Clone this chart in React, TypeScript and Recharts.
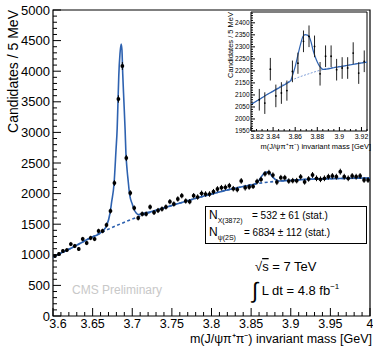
import React from 'react';
import { ComposedChart, Line, Scatter, ErrorBar, XAxis, YAxis, ReferenceArea } from 'recharts';

// histogram: 5 MeV bins starting at 3.600 GeV
const BIN_LO = 3.6;
const BIN_W = 0.005;

const counts = [
  980, 1013, 1062, 1078, 1176, 1144, 1095, 1258, 1193, 1275,
  1258, 1389, 1389, 1487, 1716, 2173, 3546, 4085, 2582, 2010,
  1765, 1601, 1667, 1667, 1781, 1691, 1724, 1748, 1781, 1868,
  1830, 1912, 1966, 1879, 1868, 1966, 1944, 2005, 1993, 1993,
  2031, 2075, 2096, 2103, 2129, 2080, 2066, 2207, 2096, 2108,
  2118, 2198, 2232, 2323, 2344, 2302, 2188, 2261, 2261, 2205,
  2212, 2212, 2274, 2191, 2240, 2304, 2250, 2234, 2250, 2276,
  2288, 2276, 2358, 2276, 2250, 2288, 2276, 2288, 2222, 2222,
];

const errors = [
  31, 32, 33, 33, 34, 34, 33, 35, 35, 36,
  35, 37, 37, 39, 41, 47, 60, 64, 51, 45,
  42, 40, 41, 41, 42, 41, 42, 42, 42, 43,
  43, 44, 44, 43, 43, 44, 44, 45, 45, 45,
  45, 46, 46, 46, 46, 45, 45, 47, 47, 45,
  42, 45, 44, 45, 45, 45, 49, 45, 45, 45,
  45, 45, 45, 45, 45, 48, 47, 47, 47, 48,
  48, 48, 49, 48, 47, 48, 48, 48, 47, 47,
];

// total fit (signal + background)
const fitMass = [
  3.6, 3.622, 3.647, 3.659, 3.664, 3.668, 3.672, 3.674, 3.677, 3.6795,
  3.681, 3.682, 3.683, 3.6845, 3.686, 3.687, 3.688, 3.6895, 3.691, 3.692,
  3.6935, 3.695, 3.696, 3.697, 3.7, 3.702, 3.705, 3.707, 3.712, 3.722,
  3.748, 3.773, 3.798, 3.82, 3.828, 3.837, 3.846, 3.853, 3.856, 3.857,
  3.86, 3.863, 3.8655, 3.867, 3.869, 3.871, 3.873, 3.8745, 3.876, 3.878,
  3.88, 3.882, 3.884, 3.8855, 3.888, 3.896, 3.906, 3.915, 3.926, 3.96, 4.0,
];
const fitValue = [
  964, 1103, 1275, 1348, 1405, 1487, 1683, 1863, 2157, 2712,
  3072, 3497, 3922, 4281, 4444, 4346, 3954, 3497, 3039, 2663,
  2386, 2190, 2059, 1961, 1830, 1748, 1683, 1659, 1675, 1700,
  1797, 1895, 1985, 2060, 2083, 2108, 2131, 2150, 2160, 2173,
  2218, 2277, 2322, 2343, 2351, 2349, 2339, 2318, 2289, 2260,
  2237, 2220, 2210, 2206, 2207, 2214, 2222, 2229, 2237, 2247, 2255,
];

// background component
const bkgMass = [
  3.6, 3.622, 3.647, 3.672, 3.697, 3.722, 3.748, 3.773, 3.798, 3.82,
  3.837, 3.855, 3.864, 3.873, 3.882, 3.891, 3.905, 3.926, 3.96, 4.0,
];
const bkgValue = [
  964, 1103, 1275, 1430, 1569, 1691, 1797, 1895, 1985, 2060,
  2108, 2158, 2175, 2189, 2202, 2212, 2222, 2237, 2247, 2255,
];

const xMajor = [3.6, 3.65, 3.7, 3.75, 3.8, 3.85, 3.9, 3.95, 4.0];
const xMajorLabels = ['3.6', '3.65', '3.7', '3.75', '3.8', '3.85', '3.9', '3.95', '4'];
const yMajor = [0, 500, 1000, 1500, 2000, 2500, 3000, 3500, 4000, 4500, 5000];
const yMajorLabels = ['0', '500', '1000', '1500', '2000', '2500', '3000', '3500', '4000', '4500', '5000'];

const insetXMajor = [3.82, 3.84, 3.86, 3.88, 3.9, 3.92];
const insetXLabels = ['3.82', '3.84', '3.86', '3.88', '3.9', '3.92'];
const insetYMajor = [1950, 2000, 2050, 2100, 2150, 2200, 2250, 2300, 2350, 2400];
const insetYLabels = ['1950', '2000', '2050', '2100', '2150', '2200', '2250', '2300', '2350', '2400'];
const INSET_FIRST_BIN = 45;
const INSET_LAST_BIN = 64;

const FONT = '"Liberation Sans", Arial, Helvetica, sans-serif';
const BLUE = '#2e62b0';

const points = counts.map((n, i) => ({ m: BIN_LO + BIN_W * (i + 0.5), n, err: errors[i] }));
const fit = fitMass.map((m, i) => ({ m, n: fitValue[i] }));
const bkg = bkgMass.map((m, i) => ({ m, n: bkgValue[i] }));
const insetPoints = points.slice(INSET_FIRST_BIN, INSET_LAST_BIN + 1);
const insetFit = fit.filter((p) => p.m > 3.79 && p.m < 3.97);
const insetBkg = bkg.filter((p) => p.m > 3.79 && p.m < 3.97);

function steps(a: number, b: number, step: number) {
  const out: number[] = [];
  for (let k = 0; a + k * step <= b + 1e-9; k++) out.push(+(a + k * step).toFixed(4));
  return out;
}

type TickOpts = {
  majors: number[];
  labels: string[];
  major: number;
  minor: number;
  fontSize: number;
  gap: number;
  firstShift?: number;
};

// ticks point into the frame, like ROOT draws them
function bottomTick(o: TickOpts) {
  return (props: any) => {
    const { x, y, payload } = props;
    const k = o.majors.findIndex((m) => Math.abs(m - payload.value) < 1e-6);
    const tx = k === 0 ? x + (o.firstShift || 0) : x;
    return (
      <g>
        <line x1={x} y1={y} x2={x} y2={y - (k >= 0 ? o.major : o.minor)} stroke="#000" strokeWidth={1} />
        {k >= 0 && (
          <text x={tx} y={y + o.gap} textAnchor="middle" fontSize={o.fontSize} fill="#000">
            {o.labels[k]}
          </text>
        )}
      </g>
    );
  };
}

function leftTick(o: TickOpts) {
  return (props: any) => {
    const { x, y, payload } = props;
    const k = o.majors.findIndex((m) => Math.abs(m - payload.value) < 1e-6);
    return (
      <g>
        <line x1={x} y1={y} x2={x + (k >= 0 ? o.major : o.minor)} y2={y} stroke="#000" strokeWidth={1} />
        {k >= 0 && (
          <text x={x - o.gap} y={y} dy="0.35em" textAnchor="end" fontSize={o.fontSize} fill="#000">
            {o.labels[k]}
          </text>
        )}
      </g>
    );
  };
}

const dot = (r: number) => (p: any) => <circle cx={p.cx} cy={p.cy} r={r} fill="#000" />;

function MainPlot() {
  return (
    <ComposedChart width={373} height={346} margin={{ top: 10, right: 3, bottom: 0, left: 13 }}>
      <XAxis
        type="number"
        dataKey="m"
        domain={[3.6, 4.0]}
        allowDataOverflow
        ticks={steps(3.6, 4.0, 0.01)}
        interval={0}
        height={30}
        axisLine={false}
        tickLine={false}
        tickSize={0}
        tickMargin={0}
        tick={bottomTick({ majors: xMajor, labels: xMajorLabels, major: 8, minor: 4, fontSize: 12.5, gap: 12, firstShift: 5 })}
      />
      <YAxis
        type="number"
        dataKey="n"
        domain={[0, 5000]}
        allowDataOverflow
        ticks={steps(0, 5000, 100)}
        interval={0}
        width={40}
        axisLine={false}
        tickLine={false}
        tickSize={0}
        tickMargin={0}
        tick={leftTick({ majors: yMajor, labels: yMajorLabels, major: 8, minor: 4, fontSize: 13, gap: 3 })}
      />
      <Line data={bkg} dataKey="n" type="monotone" stroke={BLUE} strokeWidth={1.6} strokeDasharray="3 2.5" dot={false} isAnimationActive={false} />
      <Line data={fit} dataKey="n" type="monotone" stroke={BLUE} strokeWidth={1.6} dot={false} isAnimationActive={false} />
      <Scatter data={points} dataKey="n" shape={dot(1.9)} isAnimationActive={false}>
        <ErrorBar dataKey="err" direction="y" width={0} stroke="#000" strokeWidth={1} isAnimationActive={false} />
      </Scatter>
      <ReferenceArea x1={3.6} x2={4.0} y1={0} y2={5000} fill="none" fillOpacity={0} stroke="#000" strokeWidth={1.2} />
    </ComposedChart>
  );
}

function InsetPlot() {
  return (
    <ComposedChart width={148} height={155} margin={{ top: 12, right: 6, bottom: 0, left: 6 }}>
      <XAxis
        type="number"
        dataKey="m"
        domain={[3.82, 3.925]}
        allowDataOverflow
        ticks={steps(3.82, 3.925, 0.005)}
        interval={0}
        height={24}
        axisLine={false}
        tickLine={false}
        tickSize={0}
        tickMargin={0}
        tick={bottomTick({ majors: insetXMajor, labels: insetXLabels, major: 4, minor: 2, fontSize: 7, gap: 8, firstShift: 6 })}
      />
      <YAxis
        type="number"
        dataKey="n"
        domain={[1950, 2445]}
        allowDataOverflow
        ticks={steps(1950, 2440, 10)}
        interval={0}
        width={20}
        axisLine={false}
        tickLine={false}
        tickSize={0}
        tickMargin={0}
        tick={leftTick({ majors: insetYMajor, labels: insetYLabels, major: 4, minor: 2, fontSize: 6.5, gap: 1.5 })}
      />
      <Line data={insetBkg} dataKey="n" type="monotone" stroke="#7f9fd8" strokeWidth={1} strokeDasharray="2 1.5" dot={false} isAnimationActive={false} />
      <Line data={insetFit} dataKey="n" type="monotone" stroke={BLUE} strokeWidth={1.2} dot={false} isAnimationActive={false} />
      <Scatter data={insetPoints} dataKey="n" shape={dot(0.9)} isAnimationActive={false}>
        <ErrorBar dataKey="err" direction="y" width={0} stroke="#222" strokeWidth={1} isAnimationActive={false} />
      </Scatter>
      <ReferenceArea x1={3.82} x2={3.925} y1={1950} y2={2445} fill="none" fillOpacity={0} stroke="#000" strokeWidth={1} />
    </ComposedChart>
  );
}

function Labels() {
  return (
    <svg width={373} height={346} style={{ position: 'absolute', left: 0, top: 0, pointerEvents: 'none' }}>
      <text transform="translate(18,10) rotate(-90)" textAnchor="end" fontSize={14} fill="#000">
        Candidates / 5 MeV
      </text>
      <text x={372} y={342.5} textAnchor="end" fontSize={12.5} fill="#000">
        m(J/ψπ⁺π⁻) invariant mass [GeV]
      </text>
      <text x={72} y={294} fontSize={12} fill="#c8c8c8">
        CMS Preliminary
      </text>

      <rect x={205.5} y={206.5} width={161} height={37} fill="#fff" stroke="#000" strokeWidth={1} />
      <text x={209} y={219} fontSize={12} fill="#000">
        N<tspan fontSize={7} dy={4}>X(3872)</tspan>
        <tspan x={252} dy={-4} fontSize={10}>= 532 ± 61 (stat.)</tspan>
      </text>
      <text x={209} y={236} fontSize={12} fill="#000">
        N<tspan fontSize={7} dy={4}>ψ(2S)</tspan>
        <tspan x={244} dy={-4} fontSize={10}>= 6834 ± 112 (stat.)</tspan>
      </text>

      <text x={255} y={271} fontSize={13} fill="#000">
        √<tspan textDecoration="overline">s</tspan> = 7 TeV
      </text>
      <text x={252} y={295} fontSize={13} fill="#000">
        <tspan fontSize={22} dy={3}>∫</tspan>
        <tspan dy={-3}> L dt = 4.8 fb</tspan>
        <tspan fontSize={8} dy={-6}>−1</tspan>
      </text>

      <text transform="translate(233,12) rotate(-90)" textAnchor="end" fontSize={7.5} fill="#000">
        Candidates / 5 MeV
      </text>
      <text x={371} y={149} textAnchor="end" fontSize={7.5} fill="#000">
        m(J/ψπ⁺π⁻) invariant mass [GeV]
      </text>
    </svg>
  );
}

export default function App() {
  return (
    <div
      style={{
        position: 'absolute',
        left: 0,
        top: 0,
        width: 373,
        height: 346,
        background: '#fff',
        fontFamily: FONT,
        overflow: 'hidden',
      }}
    >
      <div style={{ position: 'absolute', left: 0, top: 0 }}>
        <MainPlot />
      </div>
      <div style={{ position: 'absolute', left: 225, top: 0 }}>
        <InsetPlot />
      </div>
      <Labels />
    </div>
  );
}
